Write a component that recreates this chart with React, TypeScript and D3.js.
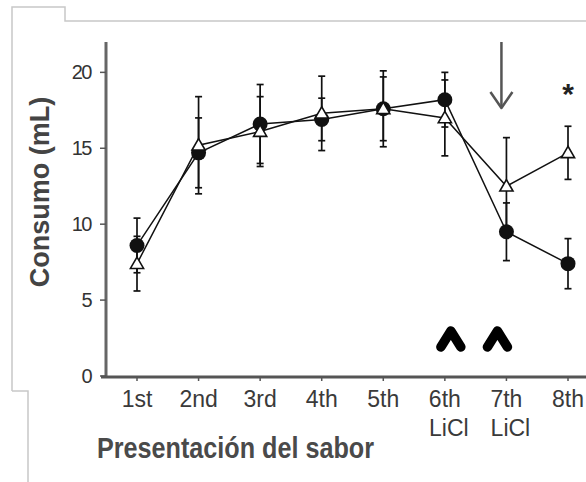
import React from "react";
import * as d3 from "d3";

const categories = ["1st", "2nd", "3rd", "4th", "5th", "6th", "7th", "8th"];
const subLabels = ["", "", "", "", "", "LiCl", "LiCl", ""];
const circleMean = [8.6, 14.7, 16.6, 16.9, 17.6, 18.2, 9.5, 7.4];
const circleErr = [1.8, 2.3, 2.6, 1.4, 2.1, 1.8, 1.9, 1.65];
const triMean = [7.4, 15.2, 16.1, 17.3, 17.6, 17.0, 12.5, 14.7];
const triErr = [1.8, 3.2, 2.3, 2.45, 2.5, 2.5, 3.2, 1.75];
const yTicks = [0, 5, 10, 15, 20];
const lithiumCategories = ["6th", "7th"];

const W = 586;
const H = 482;

export default function App() {
  const x = d3.scalePoint<string>().domain(categories).range([137, 568]);
  const y = d3.scaleLinear().domain([0, 22]).range([376, 42]);

  const line = d3
    .line<number>()
    .x((_, i) => x(categories[i]) as number)
    .y((d) => y(d));

  const tri = d3.symbol().type(d3.symbolTriangle).size(75)();

  const errBars = (means: number[], errs: number[], key: string) =>
    means.map((m, i) => {
      const cx = x(categories[i]) as number;
      const top = y(m + errs[i]);
      const bot = y(m - errs[i]);
      return (
        <g key={key + i} stroke="#111" strokeWidth={1.7}>
          <line x1={cx} x2={cx} y1={top} y2={bot} />
          <line x1={cx - 3.5} x2={cx + 3.5} y1={top} y2={top} />
          <line x1={cx - 3.5} x2={cx + 3.5} y1={bot} y2={bot} />
        </g>
      );
    });

  const x7 = x("7th") as number;
  const x8 = x("8th") as number;

  return (
    <svg
      width={W}
      height={H}
      style={{ position: "absolute", left: 0, top: 0, display: "block", background: "#fff" }}
      fontFamily="'Liberation Sans', Arial, sans-serif"
    >
      {/* frame */}
      <path
        d="M12,391 L12,7 L65,7 L65,21 L586,21"
        fill="none"
        stroke="#c8c8c8"
        strokeWidth={1.5}
      />
      <path d="M12,391 L28,391 L28,482" fill="none" stroke="#c8c8c8" strokeWidth={1.5} />

      {/* axes */}
      <line x1={106} x2={106} y1={42} y2={378} stroke="#666" strokeWidth={3} />
      <line x1={101} x2={586} y1={377} y2={377} stroke="#555" strokeWidth={3} />
      {yTicks.map((t) => (
        <g key={"yt" + t}>
          <line x1={100} x2={106} y1={y(t)} y2={y(t)} stroke="#555" strokeWidth={1.5} />
          <text
            x={91}
            y={y(t) + 7}
            textAnchor="end"
            fontSize={20}
            letterSpacing={-1.5}
            fill="#333"
          >
            {t}
          </text>
        </g>
      ))}
      {categories.map((c, i) => (
        <g key={"xt" + c}>
          <line
            x1={x(c) as number}
            x2={x(c) as number}
            y1={377}
            y2={381}
            stroke="#555"
            strokeWidth={1.5}
          />
          <text x={x(c) as number} y={407} textAnchor="middle" fontSize={23} fill="#3a3a3a">
            {c}
          </text>
          {subLabels[i] && (
            <text
              x={(x(c) as number) + 4}
              y={436}
              textAnchor="middle"
              fontSize={23}
              fill="#3a3a3a"
            >
              {subLabels[i]}
            </text>
          )}
        </g>
      ))}

      {/* titles */}
      <text
        transform="translate(49,192) rotate(-90)"
        textAnchor="middle"
        fontSize={27}
        fontWeight="bold"
        fill="#444"
      >
        Consumo (mL)
      </text>
      <text
        x={97}
        y={458}
        fontSize={29}
        fontWeight="bold"
        fill="#4a4a4a"
        textLength={277}
        lengthAdjust="spacingAndGlyphs"
      >
        Presentación del sabor
      </text>

      {/* series lines */}
      <path d={line(triMean) as string} fill="none" stroke="#111" strokeWidth={1.5} />
      <path d={line(circleMean) as string} fill="none" stroke="#111" strokeWidth={1.5} />

      {errBars(triMean, triErr, "te")}
      {errBars(circleMean, circleErr, "ce")}

      {/* markers */}
      {circleMean.map((m, i) => (
        <circle key={"c" + i} cx={x(categories[i]) as number} cy={y(m)} r={7.5} fill="#111" />
      ))}
      {triMean.map((m, i) => (
        <path
          key={"t" + i}
          d={tri as string}
          transform={`translate(${x(categories[i])},${y(m) + 1})`}
          fill="#fff"
          stroke="#111"
          strokeWidth={1.6}
        />
      ))}

      {/* annotations */}
      <g stroke="#555" strokeWidth={2.5} fill="none">
        <line x1={x7 - 5} x2={x7 - 5} y1={42} y2={107} />
        <path d={`M${x7 - 16},${92} L${x7 - 5},${108} L${x7 + 6},${92}`} strokeLinejoin="round" />
      </g>
      <text x={x8} y={104} textAnchor="middle" fontSize={30} fontWeight="bold" fill="#222">
        *
      </text>
      {lithiumCategories.map((c, i) => {
        const cx = (x(c) as number) + (i === 0 ? 6 : -9);
        return (
          <path
            key={"chev" + c}
            d={`M${cx - 10},${347} L${cx},${331} L${cx + 10},${347}`}
            fill="none"
            stroke="#000"
            strokeWidth={9.5}
            strokeLinejoin="round"
            strokeLinecap="round"
          />
        );
      })}
    </svg>
  );
}
